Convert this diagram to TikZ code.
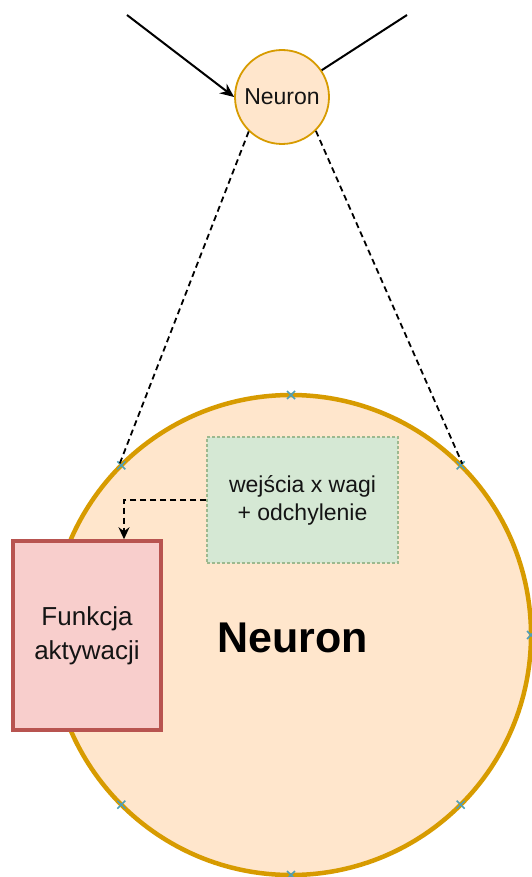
\documentclass[tikz,border=0pt]{standalone}
\usepackage{fontspec}
\setmainfont{Liberation Sans}
\usetikzlibrary{arrows.meta,calc}
\definecolor{orfill}{HTML}{FFE6CC}
\definecolor{orline}{HTML}{D79B00}
\definecolor{grfill}{HTML}{D5E8D4}
\definecolor{grline}{HTML}{9DB98F}
\definecolor{rdfill}{HTML}{F8CECC}
\definecolor{rdline}{HTML}{B85450}
\definecolor{xmark}{HTML}{4E9FB8}
\definecolor{txt}{HTML}{141414}
\tikzset{
  neuronsmall/.style={circle,draw=orline,fill=orfill,line width=1.8pt,minimum size=94pt,inner sep=0pt,text=txt,font=\fontsize{23}{28}\selectfont},
  neuronbig/.style={circle,draw=orline,fill=orfill,line width=4.5pt,minimum size=480pt,inner sep=0pt},
  greenbox/.style={rectangle,draw=grline,fill=grfill,dash pattern=on 3pt off 2pt,line width=1.2pt,minimum width=191pt,minimum height=126pt,inner sep=0pt,align=center,text=txt,font=\fontsize{23}{28}\selectfont},
  redbox/.style={rectangle,draw=rdline,fill=rdfill,line width=3.5pt,minimum width=148pt,minimum height=189pt,inner sep=0pt,align=center,text=txt,font=\fontsize{26}{34}\selectfont},
  conn/.style={line width=2pt,draw=black},
  dashconn/.style={line width=1.8pt,draw=black,dash pattern=on 6pt off 4pt},
  xm/.style={draw=xmark,line width=1.5pt}
}
\begin{document}
\begin{tikzpicture}[x=1pt,y=-1pt]
\useasboundingbox (0,0) rectangle (531,877);
% big neuron
\node[neuronbig] (big) at (291,635) {};
\foreach \a in {0,45,...,315}{
  \draw[xm] ($(big.center)+(\a:240)+(-4,-4)$) -- ++(8,8);
  \draw[xm] ($(big.center)+(\a:240)+(-4,4)$) -- ++(8,-8);
}
\node[font=\fontsize{43}{50}\selectfont\bfseries,text=black] (lbl) at (293,638) {Neuron};
% small neuron
\node[neuronsmall] (n) at (282,97) {Neuron};
\coordinate (in1) at (127,15);
\coordinate (out1) at (407,15);
\draw[conn,-{Stealth[length=14pt,width=12pt]}] (in1) -- (n.west);
\draw[conn] (n.34) -- (out1);
% zoom lines
\draw[dashconn] (n.226) -- (big.135);
\draw[dashconn] (n.315) -- (big.45);
% boxes
\node[greenbox] (g) at (302.5,500) {wejścia x wagi\\+ odchylenie};
\node[redbox] (f) at (87,635.5) {Funkcja\\aktywacji};
\draw[dashconn,-{Stealth[length=12pt,width=11pt]}] (g.west) -| ([xshift=37pt]f.north);
\end{tikzpicture}
\end{document}
